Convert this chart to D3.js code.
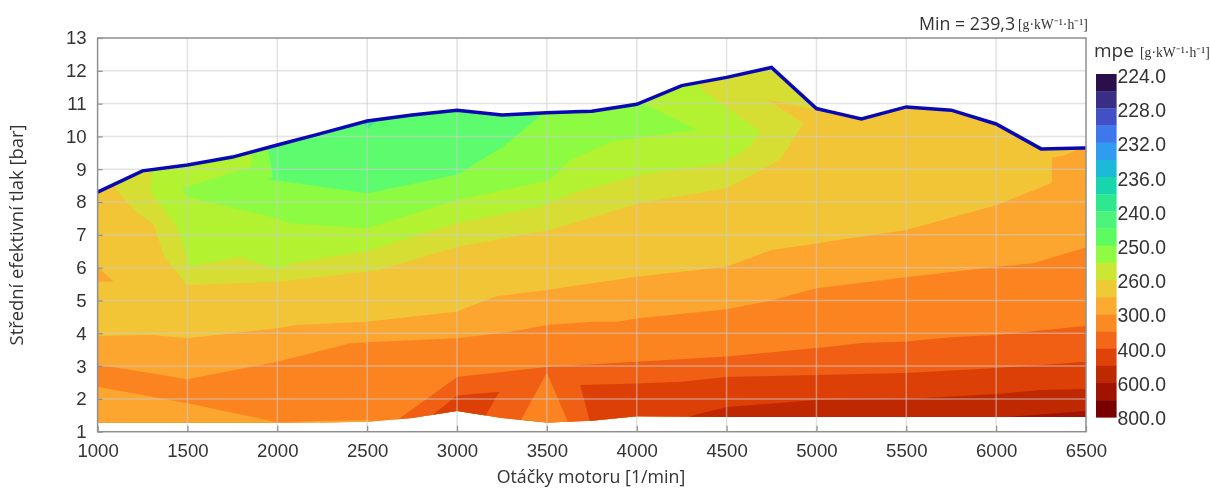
<!DOCTYPE html>
<html><head><meta charset="utf-8">
<script src="https://cdn.jsdelivr.net/npm/d3@7"></script>
<style>
html,body{margin:0;padding:0;background:#fff;overflow:hidden}
svg{display:block}
text{fill:#333}
</style></head><body>
<svg id="c" width="1210" height="488"></svg>
<script>
// ---- data (rpm, bar) ----
const xTicks=[1000,1500,2000,2500,3000,3500,4000,4500,5000,5500,6000,6500];
const yTicks=[1,2,3,4,5,6,7,8,9,10,11,12,13];
const topLine=[[1000,8.3],[1250,8.95],[1500,9.13],[1750,9.37],[2000,9.74],[2250,10.1],[2500,10.47],[2750,10.65],[3000,10.8],[3250,10.65],[3500,10.72],[3750,10.77],[4000,10.98],[4250,11.55],[4500,11.8],[4750,12.1],[5000,10.85],[5250,10.53],[5500,10.9],[5750,10.8],[6000,10.38],[6250,9.62],[6500,9.65]];
const bottomLine=[[1000,1.27],[2000,1.27],[2500,1.3],[2750,1.42],[3000,1.63],[3250,1.42],[3500,1.28],[3750,1.33],[4000,1.47],[4500,1.45],[6500,1.45]];
const bandE=[[1000,3.92],[1300,3.95],[1500,3.85],[2000,4.15],[2100,4.25],[2500,4.35],[3000,4.66],[3220,5.13],[3500,5.32],[3684,5.47],[4000,5.72],[4500,6.03],[4750,6.54],[5000,6.74],[5500,7.15],[6000,7.9],[6310,8.58],[6310,9.34],[6380,9.43],[6500,9.7],[6500,1],[1000,1]];
const triangleLeft=[[1000,6.02],[1090,5.57],[1000,5.57]];
const bandF=[[1000,3.05],[1500,2.6],[2000,3.13],[2400,3.69],[2500,3.73],[3000,3.85],[3300,4.05],[3500,4.25],[3750,4.35],[3890,4.35],[4000,4.45],[4500,4.73],[4750,5.0],[5000,5.37],[5500,5.71],[6000,6.03],[6200,6.13],[6500,6.62],[6500,1],[1000,1]];
const islandLow=[[1000,2.37],[1500,1.87],[2000,1.29],[2500,1.36],[2600,1.2],[1000,1.2]];
const bandG=[[2600,1.2],[2680,1.4],[3000,2.67],[3500,2.97],[3685,3.03],[4000,3.13],[4500,3.29],[5000,3.55],[5250,3.7],[5500,3.75],[5750,3.88],[6000,3.95],[6500,4.22],[6500,1]];
const wedge3500=[[3500,2.8],[3340,1.2],[3625,1.2]];
const bandH1=[[2850,1.45],[3000,2.1],[3235,2.22],[3150,1.4]];
const bandH2=[[3685,2.42],[4000,2.47],[4250,2.52],[4500,2.67],[5000,2.73],[5500,2.79],[6000,2.94],[6500,3.13],[6500,1],[3790,1],[3740,1.3]];
const bandI=[[4297,1.47],[4500,1.75],[5000,1.97],[5500,2.0],[6000,2.15],[6250,2.27],[6500,2.3],[6500,1],[4297,1]];
const bandJ=[[6060,1.45],[6500,1.63],[6500,1],[6060,1]];
const bandD=[[1000,13],[1097,8.43],[1203,7.76],[1314,7.3],[1370,6.33],[1497,5.47],[2000,5.57],[2500,5.88],[2571,5.93],[3000,6.64],[3518,7.15],[4019,7.97],[4500,8.42],[4797,9.28],[4870,9.9],[4927,10.4],[4723,11.13],[4985,10.82],[4985,13]];
const bandC=[[1303,13],[1303,8.93],[1293,8.32],[1442,7.25],[1497,6.33],[1507,6.03],[1792,6.33],[2000,5.93],[2071,6.13],[2500,6.5],[3000,7.36],[3462,7.86],[3648,8.28],[4019,8.83],[4480,9.18],[4630,9.69],[4687,10.15],[4352,11.47],[4352,13]];
const bandB=[[1857,13],[1857,9.08],[1470,8.42],[1497,8.16],[2000,7.5],[2070,7.35],[2500,7.2],[3000,8.06],[3258,8.37],[3518,8.67],[3630,9.28],[3861,9.84],[4000,9.95],[4334,10.2],[4000,11.1],[4000,13]];
const bandA=[[1948,13],[1948,9.59],[1976,8.77],[1943,8.7],[2500,8.27],[3000,8.83],[3258,9.69],[3470,10.65],[3520,13]];
const spotTeal=[[2470,10.6],[2500,10.22],[2580,10.6]];
const legendLabels=["224.0","228.0","232.0","236.0","240.0","250.0","260.0","300.0","400.0","600.0","800.0"];
const legendBins=["#2b0f4a","#3a2d86","#4150c4","#3f78ec","#2f9cf0","#1db9d8","#18d6ac","#2ee890","#4cf47c","#5cfc60","#8ffb42","#cbe633","#eecb35","#fcab30","#fb8a22","#f26718","#df430a","#bd2a02","#a01300","#7a0000"];
const layers=[
 {p:bandE,c:"#fca52f"},{p:triangleLeft,c:"#fca52f"},{p:bandF,c:"#fb8420"},{p:islandLow,c:"#fca52f"},
 {p:bandG,c:"#f05f14"},{p:wedge3500,c:"#fb8420"},{p:bandH1,c:"#dc4007"},{p:bandH2,c:"#dc4007"},
 {p:bandI,c:"#bf2800"},{p:bandJ,c:"#a01300"},
 {p:bandD,c:"#d6de33"},{p:bandC,c:"#b2f230"},{p:bandB,c:"#8cfb42"},{p:bandA,c:"#5cfc6e"},{p:spotTeal,c:"#3ee88c"}
];
const baseColor="#f1c536";

const svg=d3.select("#c");
const x=d3.scaleLinear().domain([1000,6500]).range([97.6,1086]);
const y=d3.scaleLinear().domain([1,13]).range([431.7,38]);
const line=d3.line().x(d=>x(d[0])).y(d=>y(d[1]));
const FONT="'Liberation Sans',Arial,sans-serif", FONT2="'Open Sans',sans-serif", SERIF="'Liberation Serif',serif";

const root=svg.append("g").style("filter","blur(0.45px)");
const envelope=topLine.concat(bottomLine.slice().reverse());
root.append("clipPath").attr("id","env").append("path").attr("d",line(envelope)+"Z");
const map=root.append("g").attr("clip-path","url(#env)");
map.append("path").attr("d",line(envelope)+"Z").attr("fill",baseColor);
map.selectAll("path.b").data(layers).join("path").attr("class","b")
  .attr("d",d=>line(d.p)+"Z").attr("fill",d=>d.c);

// grid
const grid=root.append("g").attr("stroke","rgba(204,204,204,0.55)").attr("stroke-width",1.5);
grid.selectAll("line.v").data(xTicks.slice(1,-1)).join("line").attr("class","v")
  .attr("x1",d=>x(d)).attr("x2",d=>x(d)).attr("y1",y(13)).attr("y2",y(1));
grid.selectAll("line.h").data(yTicks.slice(1,-1)).join("line").attr("class","h")
  .attr("x1",x(1000)).attr("x2",x(6500)).attr("y1",d=>y(d)).attr("y2",d=>y(d));

// WOT line
root.append("path").attr("d",line(topLine)).attr("fill","none").attr("stroke","#0808b4").attr("stroke-width",3.5).attr("stroke-linejoin","miter");

// frame
root.append("rect").attr("x",x(1000)).attr("y",y(13)).attr("width",x(6500)-x(1000)).attr("height",y(1)-y(13))
  .attr("fill","none").attr("stroke","#8f8f8f").attr("stroke-width",1.5);

// axes
const ax=root.append("g").attr("transform",`translate(0,${y(1)})`)
  .call(d3.axisBottom(x).tickValues(xTicks).tickFormat(d3.format("d")).tickSize(-6));
const ay=root.append("g").attr("transform",`translate(${x(1000)},0)`)
  .call(d3.axisLeft(y).tickValues(yTicks).tickFormat(d3.format("d")).tickSize(-5).tickPadding(11));
[ax,ay].forEach(a=>{a.select(".domain").remove();
  a.selectAll(".tick line").attr("stroke","#8f8f8f").attr("stroke-width",1.2);
  a.selectAll("text").attr("font-family",FONT).attr("font-size",18.6).style("fill","#333");});
ax.selectAll("text").attr("dy",null).attr("y",25);

// titles
root.append("text").attr("x",591).attr("y",483).attr("text-anchor","middle").attr("font-family",FONT2).attr("font-size",17.8).text("Otáčky motoru [1/min]");
root.append("text").attr("transform","translate(23,235) rotate(-90)").attr("text-anchor","middle").attr("font-family",FONT2).attr("font-size",18.4).text("Střední efektivní tlak [bar]");
root.append("text").attr("x",919).attr("y",30).attr("font-family",FONT2).attr("font-size",17.8).text("Min = 239,3");
const unit=(xp,yp)=>root.append("text").attr("x",xp).attr("y",yp).attr("font-family",SERIF).attr("font-size",13.7).text("[g·kW⁻¹·h⁻¹]");
unit(1018,29);
root.append("text").attr("x",1094).attr("y",57).attr("font-family",FONT2).attr("font-size",19).text("mpe");
unit(1140,57);

// legend
const ly=d3.scaleLinear().domain([0,20]).range([74,417.3]);
root.append("g").selectAll("rect").data(legendBins).join("rect")
  .attr("x",1096).attr("width",20.6).attr("y",(d,i)=>ly(i)).attr("height",(d,i)=>ly(i+1)-ly(i)+0.3).attr("fill",d=>d);
const lt=d3.scalePoint().domain(legendLabels).range([76,418]);
root.append("g").selectAll("text").data(legendLabels).join("text")
  .attr("x",1117.5).attr("y",d=>lt(d)).attr("dy","0.36em").attr("font-family",FONT).attr("font-size",19.4).text(d=>d);
</script>
</body></html>
